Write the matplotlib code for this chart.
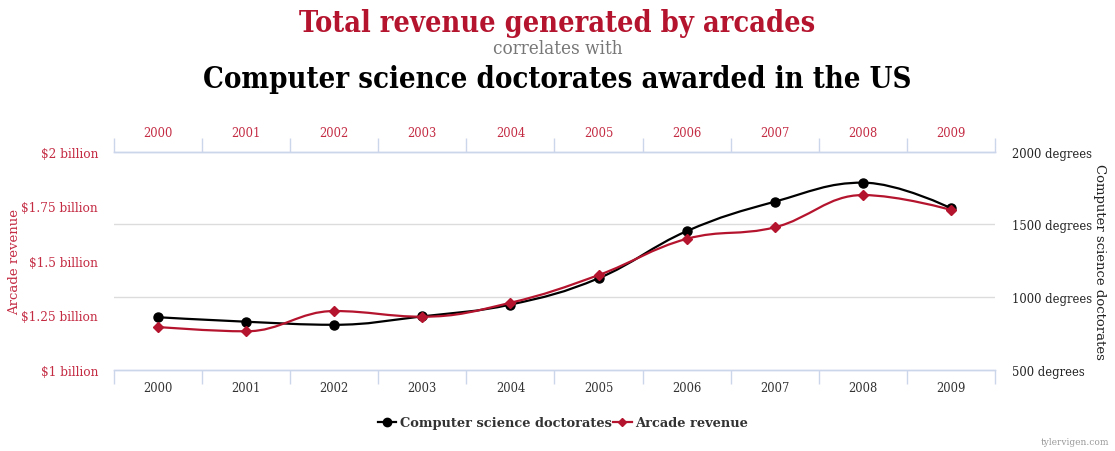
import matplotlib
matplotlib.use("Agg")
import matplotlib.pyplot as plt
from matplotlib.path import Path
from matplotlib.patches import PathPatch
import numpy as np

years = ["2000", "2001", "2002", "2003", "2004", "2005", "2006", "2007", "2008", "2009"]
doctorates = [861, 830, 809, 867, 948, 1129, 1453, 1656, 1787, 1611]
revenue = [1.196, 1.176, 1.269, 1.243, 1.307, 1.434, 1.600, 1.653, 1.801, 1.733]  # billions

revenue_ticks = [1, 1.25, 1.5, 1.75, 2]
revenue_labels = ["$1 billion", "$1.25 billion", "$1.5 billion", "$1.75 billion", "$2 billion"]
degree_ticks = [500, 1000, 1500, 2000]
degree_labels = ["500 degrees", "1000 degrees", "1500 degrees", "2000 degrees"]

RED = "#b5142e"
RED_TXT = "#c42c44"
AXIS = "#ccd6eb"
GRID = "#dcdcdc"
FONT = "DejaVu Serif"

plt.rcParams["font.family"] = FONT


def spline_path(xs, ys):
    # highcharts style spline, smoothing 1.5
    n = len(xs)
    lc = [(xs[i], ys[i]) for i in range(n)]
    rc = [(xs[i], ys[i]) for i in range(n)]
    s = 1.5
    d = s + 1
    for i in range(1, n - 1):
        px, py = xs[i], ys[i]
        lx = (s * px + xs[i - 1]) / d
        ly = (s * py + ys[i - 1]) / d
        rx = (s * px + xs[i + 1]) / d
        ry = (s * py + ys[i + 1]) / d
        corr = (ry - ly) * (rx - px) / (rx - lx) + py - ry
        ly += corr
        ry += corr
        if ly > ys[i - 1] and ly > py:
            ly = max(ys[i - 1], py)
            ry = 2 * py - ly
        elif ly < ys[i - 1] and ly < py:
            ly = min(ys[i - 1], py)
            ry = 2 * py - ly
        if ry > ys[i + 1] and ry > py:
            ry = max(ys[i + 1], py)
            ly = 2 * py - ry
        elif ry < ys[i + 1] and ry < py:
            ry = min(ys[i + 1], py)
            ly = 2 * py - ry
        lc[i] = (lx, ly)
        rc[i] = (rx, ry)
    verts = [(xs[0], ys[0])]
    codes = [Path.MOVETO]
    for i in range(1, n):
        verts += [rc[i - 1], lc[i], (xs[i], ys[i])]
        codes += [Path.CURVE4] * 3
    return Path(verts, codes)


fig = plt.figure(figsize=(11.15, 4.52), dpi=100)
ax = fig.add_axes([0.1022, 0.1799, 0.7902, 0.4823])
ax2 = ax.twinx()
ax.set_zorder(ax2.get_zorder() + 1)
ax.patch.set_visible(False)

x = np.arange(len(years))

# doctorates on right axis
ax2.set_ylim(500, 2000)
for g in [1000, 1500]:
    ax2.axhline(g, color=GRID, lw=1, zorder=0)
ax2.add_patch(PathPatch(spline_path(x, doctorates), fill=False, color="black", lw=1.6, zorder=3))
ax2.plot(x, doctorates, "o", color="black", ms=6.5, zorder=4)

# revenue on left axis
ax.set_ylim(1, 2)
ax.add_patch(PathPatch(spline_path(x, revenue), fill=False, color=RED, lw=1.6, zorder=3))
ax.plot(x, revenue, "D", color=RED, ms=5, zorder=4)

ax.set_xlim(-0.5, len(years) - 0.5)

for a in (ax, ax2):
    for side in ["left", "right"]:
        a.spines[side].set_visible(False)
    for side in ["top", "bottom"]:
        a.spines[side].set_color(AXIS)
        a.spines[side].set_linewidth(1)

ax.set_yticks(revenue_ticks)
ax.set_yticklabels(revenue_labels)
ax.tick_params(axis="y", length=0, pad=11.5, labelsize=8.7, labelcolor=RED_TXT)
ax.set_ylabel("Arcade revenue", color=RED_TXT, fontsize=9.5, labelpad=0)

ax2.set_yticks(degree_ticks)
ax2.set_yticklabels(degree_labels)
ax2.tick_params(axis="y", length=0, pad=12, labelsize=8.3, labelcolor="#222222")
ax2.set_ylabel("Computer science doctorates", color="#222222", fontsize=9.5, rotation=270, labelpad=10)

ax.set_xticks(x)
ax.set_xticklabels(years)
ax.set_xticks(np.arange(-0.5, len(years)), minor=True)
ax.tick_params(axis="x", which="major", length=0, pad=8, labelsize=8.3, labelcolor="#333333")
ax.tick_params(axis="x", which="minor", length=10, color=AXIS, width=1)

top = ax.secondary_xaxis("top")
top.set_xticks(x)
top.set_xticklabels(years)
top.set_xticks(np.arange(-0.5, len(years)), minor=True)
top.tick_params(axis="x", which="major", length=0, pad=9, labelsize=8.3, labelcolor=RED_TXT)
top.tick_params(axis="x", which="minor", length=10, color=AXIS, width=1)
top.spines["top"].set_color(AXIS)

fig.text(0.5, 0.947, "Total revenue generated by arcades", ha="center", va="center",
         color=RED, fontsize=20.7, fontweight="bold", fontstretch="condensed")
fig.text(0.5, 0.892, "correlates with", ha="center", va="center", color="#777777", fontsize=13.5,
         fontstretch="condensed")
fig.text(0.5, 0.825, "Computer science doctorates awarded in the US", ha="center", va="center",
         color="black", fontsize=21, fontweight="bold", fontstretch="condensed")

h1, = ax.plot([], [], "-o", color="black", ms=6, lw=1.6)
h2, = ax.plot([], [], "-D", color=RED, ms=4.5, lw=1.6)
leg = fig.legend([h1, h2], ["Computer science doctorates", "Arcade revenue"], loc="center",
                 bbox_to_anchor=(0.505, 0.062), ncol=2, frameon=False, handlelength=1.4,
                 handletextpad=0.3, columnspacing=0.1,
                 prop={"family": FONT, "weight": "bold", "size": 9.4})
for t in leg.get_texts():
    t.set_color("#333333")

fig.text(0.995, 0.012, "tylervigen.com", ha="right", va="bottom", color="#999999", fontsize=6.5)

fig.savefig("out.png", dpi=100)
